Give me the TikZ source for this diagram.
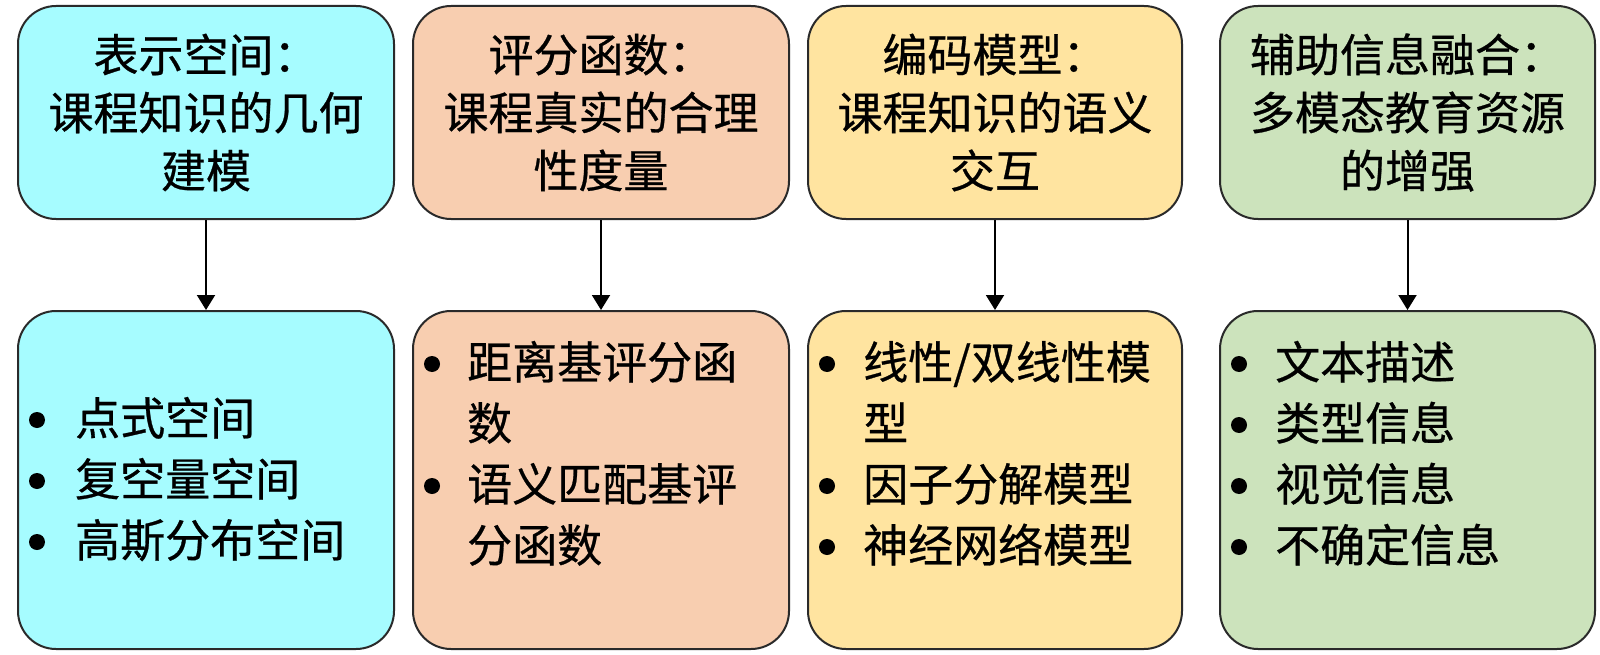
\documentclass[tikz,border=0pt]{standalone}
\usepackage{fontspec}
\setmainfont{Noto Sans CJK SC}[FakeBold=0.6]
\usetikzlibrary{arrows.meta}
\definecolor{cfill}{HTML}{A6FCFF}
\definecolor{pfill}{HTML}{F8CEB0}
\definecolor{yfill}{HTML}{FFE4A0}
\definecolor{gfill}{HTML}{CCE3BC}
\definecolor{edge}{HTML}{2A2A2A}
\begin{document}
\begin{tikzpicture}[x=1pt,y=-1pt,
  box/.style={draw=edge, line width=2pt, rounded corners=38pt, inner sep=0pt},
  title/.style={font=\fontsize{45}{58}\selectfont, align=center},
  item/.style={font=\fontsize{45}{58}\selectfont, anchor=base west, inner sep=0pt},
  bul/.style={circle, fill=black, inner sep=0pt, minimum size=16pt},
  conn/.style={line width=2pt, -{Triangle[length=15pt,width=18pt]}}]
\useasboundingbox (0,0) rectangle (1600,655);
% top boxes
\node[box, title, fill=cfill, minimum width=376pt, minimum height=213pt] (t1) at (206,112.5) {表示空间：\\课程知识的几何\\建模};
\node[box, title, fill=pfill, minimum width=376pt, minimum height=213pt] (t2) at (601,112.5) {评分函数：\\课程真实的合理\\性度量};
\node[box, title, fill=yfill, minimum width=374pt, minimum height=213pt] (t3) at (995,112.5) {编码模型：\\课程知识的语义\\交互};
\node[box, title, fill=gfill, minimum width=375pt, minimum height=213pt] (t4) at (1407.5,112.5) {辅助信息融合：\\多模态教育资源\\的增强};
% bottom boxes
\node[box, fill=cfill, minimum width=376pt, minimum height=338pt] (b1) at (206,480) {};
\node[box, fill=pfill, minimum width=376pt, minimum height=338pt] (b2) at (601,480) {};
\node[box, fill=yfill, minimum width=374pt, minimum height=338pt] (b3) at (995,480) {};
\node[box, fill=gfill, minimum width=375pt, minimum height=338pt] (b4) at (1407.5,480) {};
% connectors
\draw[conn] (t1.south) -- (b1.north);
\draw[conn] (t2.south) -- (b2.north);
\draw[conn] (t3.south) -- (b3.north);
\draw[conn] (t4.south) -- (b4.north);
% box 1 items
\node[bul] (d11) at (37,420) {};
\node[bul] (d12) at (37,481) {};
\node[bul] (d13) at (37,542) {};
\node[item] (i11) at (75,435) {点式空间};
\node[item] (i12) at (75,496) {复空量空间};
\node[item] (i13) at (75,557) {高斯分布空间};
% box 2 items
\node[bul] (d21) at (432,364) {};
\node[bul] (d22) at (432,486) {};
\node[item] (i21) at (467,379) {距离基评分函};
\node[item] (i22) at (467,440) {数};
\node[item] (i23) at (467,501) {语义匹配基评};
\node[item] (i24) at (467,562) {分函数};
% box 3 items
\node[bul] (d31) at (827,364) {};
\node[bul] (d32) at (827,486) {};
\node[bul] (d33) at (827,547) {};
\node[item] (i31) at (863,379) {线性/双线性模};
\node[item] (i32) at (863,440) {型};
\node[item] (i33) at (863,501) {因子分解模型};
\node[item] (i34) at (863,562) {神经网络模型};
% box 4 items
\node[bul] (d41) at (1239,364) {};
\node[bul] (d42) at (1239,425) {};
\node[bul] (d43) at (1239,486) {};
\node[bul] (d44) at (1239,547) {};
\node[item] (i41) at (1275,379) {文本描述};
\node[item] (i42) at (1275,440) {类型信息};
\node[item] (i43) at (1275,501) {视觉信息};
\node[item] (i44) at (1275,562) {不确定信息};
\end{tikzpicture}
\end{document}
